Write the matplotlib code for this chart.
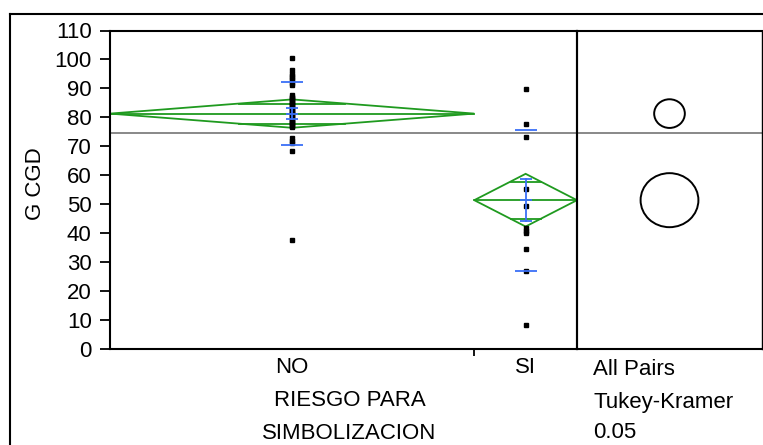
import matplotlib
matplotlib.use('Agg')
import matplotlib.pyplot as plt
from matplotlib.patches import Polygon, Ellipse
from matplotlib.lines import Line2D
import numpy as np

plt.rcParams['font.family'] = ['Liberation Sans', 'DejaVu Sans']

# G CGD by RIESGO PARA SIMBOLIZACION
groups = ['NO', 'SI']
no_values = [100.6, 96.4, 95.0, 94.3, 93.5, 92.8, 92.0, 91.3,
             87.7, 87.2, 86.8, 86.3, 85.9, 85.4, 85.0, 84.6, 84.1, 83.7,
             83.2, 82.8, 82.3, 81.9, 81.5, 81.0, 80.6, 80.1, 79.7, 79.2,
             78.8, 78.4, 77.9, 77.5, 77.0, 76.6,
             72.8, 72.0, 71.2, 68.4, 37.6]
si_values = [89.7, 77.6, 73.1, 55.4, 49.3, 41.7, 40.9, 40.0, 34.5, 27.0, 8.3]

group_means = [81.3, 51.4]
ci_half = [4.9, 9.1]        # 95% CI half width (diamonds)
std_err = [1.85, 7.35]      # mean error bars
std_dev = [10.95, 24.4]     # std dev lines
grand_mean = 74.7
circle_radius = [4.95, 9.33]  # Tukey-Kramer comparison circles
y_ticks = list(range(0, 111, 10))

W, H = 763, 445
FS = 16
fig = plt.figure(figsize=(W / 100, H / 100), dpi=100)


def fx(px):
    return px / W


def fy(py):
    return 1 - py / H


left, right_main, right_circ, top, bottom = 110, 577, 762, 30.5, 349
ax = fig.add_axes([fx(left), fy(bottom), (right_main - left) / W, (bottom - top) / H])
axc = fig.add_axes([fx(right_main), fy(bottom), (right_circ - right_main) / W, (bottom - top) / H])
axc.patch.set_visible(False)

green = '#1f9a1f'
blue = '#3a6ff7'
gray = '#7f7f7f'

counts = [len(no_values), len(si_values)]
edges = np.concatenate([[0], np.cumsum(counts)])
centers = (edges[:-1] + edges[1:]) / 2
values = [no_values, si_values]

ax.set_xlim(0, edges[-1])
ax.set_ylim(0, 110)

ax.axhline(grand_mean, color=gray, lw=1.3, zorder=1)

for i in range(2):
    x0, x1, xc = edges[i], edges[i + 1], centers[i]
    m, ci = group_means[i], ci_half[i]
    hw = (x1 - x0) / 2
    # means diamond
    diamond = Polygon([[x0, m], [xc, m + ci], [x1, m], [xc, m - ci]],
                      closed=True, fill=False, edgecolor=green, lw=1.3, zorder=2)
    ax.add_patch(diamond)
    ax.plot([x0, x1], [m, m], color=green, lw=1.3, zorder=2)
    # overlap marks
    h = ci / np.sqrt(2)
    w = hw * (1 - 1 / np.sqrt(2))
    for y in (m + h, m - h):
        ax.plot([xc - w, xc + w], [y, y], color=green, lw=1.3, zorder=2)

    # points
    ax.plot([xc] * len(values[i]), values[i], 's', ms=2.3, color='black',
            mec='black', zorder=3)

    # error bars and std dev lines
    se, sd = std_err[i], std_dev[i]
    ax.plot([xc, xc], [m - se, m + se], color=blue, lw=1.3, zorder=4)
    ax.plot([xc] * 3, [m - se, m, m + se], ls='none', marker='_', ms=8,
            mew=1.3, color=blue, zorder=4)
    ax.plot([xc] * 2, [m - sd, m + sd], ls='none', marker='_', ms=16,
            mew=1.3, color=blue, zorder=4)

ax.set_yticks(y_ticks)
ax.set_xticks(centers)
ax.set_xticklabels(groups)
ax.set_xticks(edges[1:2], minor=True)
ax.tick_params(axis='y', length=7.2, width=1.3, pad=6, labelsize=FS, direction='out')
ax.tick_params(axis='x', which='major', length=0, pad=6, labelsize=FS)
ax.tick_params(axis='x', which='minor', length=5, width=1.3, direction='out')
for s in ax.spines.values():
    s.set_linewidth(1.5)

# comparison circles panel, equal pixel scale on both axes
axc.set_ylim(0, 110)
pw = (right_circ - right_main)
ph = (bottom - top)
xspan = 110 * pw / ph
axc.set_xlim(0, xspan)
axc.axhline(grand_mean, color=gray, lw=1.3, zorder=1)
for m, r in zip(group_means, circle_radius):
    axc.add_patch(Ellipse((xspan / 2, m), 2 * r * 1.07, 2 * r, fill=False,
                          edgecolor='black', lw=1.4))
axc.set_xticks([])
axc.set_yticks([])
axc.spines['left'].set_linewidth(1.5)
axc.spines['top'].set_linewidth(1.5)
axc.spines['bottom'].set_linewidth(1.5)
axc.spines['right'].set_linewidth(1.0)

# outer frame
fig.add_artist(Line2D([fx(10), fx(10)], [fy(14), 0], transform=fig.transFigure,
                      color='black', lw=1.5))
fig.add_artist(Line2D([fx(10), 1], [fy(14), fy(14)], transform=fig.transFigure,
                      color='black', lw=1.5))

fig.text(fx(35.5), fy(184), 'G CGD', rotation=90, ha='center', va='center', fontsize=FS)
fig.text(fx(350), fy(406), 'RIESGO PARA', ha='center', va='baseline', fontsize=FS)
fig.text(fx(349), fy(439), 'SIMBOLIZACION', ha='center', va='baseline', fontsize=FS)
fig.text(fx(593), fy(375), 'All Pairs', ha='left', va='baseline', fontsize=FS)
fig.text(fx(593), fy(408), 'Tukey-Kramer', ha='left', va='baseline', fontsize=FS)
fig.text(fx(593), fy(438), '0.05', ha='left', va='baseline', fontsize=FS)

fig.savefig('out.png', dpi=100)
